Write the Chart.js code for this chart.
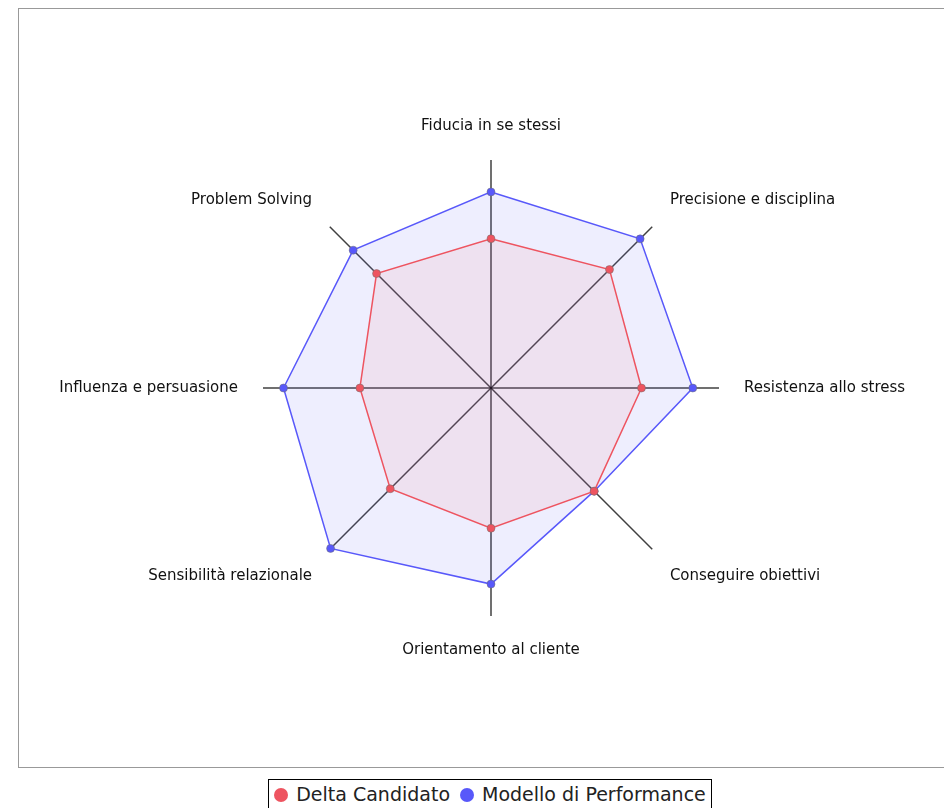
<!DOCTYPE html>
<html lang="it">
<head>
    <meta charset="UTF-8">
    <title>Radar competenze</title>
    <script src="https://cdn.jsdelivr.net/npm/chart.js"></script>
    <style>
        html, body { margin: 0; padding: 0; overflow: hidden; background: #fff; }
        #frame {
            position: absolute; left: 18px; top: 8px;
            width: 944px; height: 760px;
            border: 1px solid #999; box-sizing: border-box;
        }
        #legendWrap {
            position: absolute; left: 18px; top: 779px; width: 944px;
            text-align: center;
        }
        #legend {
            display: inline-block; border: 1px solid #000;
            padding: 3px 5px 6px 5px;
            font-family: 'DejaVu Sans', sans-serif; font-size: 19px; color: #222;
            white-space: nowrap;
        }
        #legend .dot {
            display: inline-block; width: 14px; height: 14px; border-radius: 50%;
            margin-right: 8px; vertical-align: -1px;
        }
        #legend .item { margin-right: 10px; }
        #legend .item:last-child { margin-right: 0; }
    </style>
</head>
<body>
    <div id="frame"><canvas id="radarChart" width="942" height="758"></canvas></div>
    <div id="legendWrap"><div id="legend"></div></div>

    <script>
        // axis labels, clockwise from the top
        const labels = [
            'Fiducia in se stessi',
            'Precisione e disciplina',
            'Resistenza allo stress',
            'Conseguire obiettivi',
            'Orientamento al cliente',
            'Sensibilità relazionale',
            'Influenza e persuasione',
            'Problem Solving'
        ];

        // values (scale 0-100)
        const deltaCandidato = [65.5, 73.5, 66, 64, 61.5, 62.5, 57.5, 71];
        const modelloPerformance = [86, 92.5, 88.5, 64, 86, 99.5, 91, 85.5];

        const red = 'rgb(238, 84, 96)';
        const blue = 'rgb(88, 88, 250)';

        const ctx = document.getElementById('radarChart').getContext('2d');
        const chart = new Chart(ctx, {
            type: 'radar',
            data: {
                labels: labels,
                datasets: [
                    {
                        label: 'Delta Candidato',
                        data: deltaCandidato,
                        borderColor: red,
                        backgroundColor: 'rgba(238, 84, 96, 0.09)',
                        pointBackgroundColor: red,
                        pointBorderColor: 'rgba(110, 110, 110, 0.5)',
                        pointBorderWidth: 1,
                        pointRadius: 4,
                        borderWidth: 1.5,
                        fill: true
                    },
                    {
                        label: 'Modello di Performance',
                        data: modelloPerformance,
                        borderColor: blue,
                        backgroundColor: 'rgba(88, 88, 250, 0.1)',
                        pointBackgroundColor: blue,
                        pointBorderColor: 'rgba(110, 110, 110, 0.5)',
                        pointBorderWidth: 1,
                        pointRadius: 4,
                        borderWidth: 1.5,
                        fill: true
                    }
                ]
            },
            options: {
                responsive: false,
                animation: false,
                layout: { padding: { top: 108, bottom: 108 } },
                plugins: {
                    legend: { display: false },
                    tooltip: { enabled: false }
                },
                scales: {
                    r: {
                        min: 0,
                        max: 100,
                        grid: { display: false },
                        ticks: { display: false },
                        angleLines: { color: 'rgba(0, 0, 0, 0.75)', lineWidth: 1.5 },
                        pointLabels: {
                            font: { family: 'DejaVu Sans', size: 15 },
                            color: '#111',
                            padding: 25
                        }
                    }
                }
            }
        });

        // html legend built from the datasets
        const legendEl = document.getElementById('legend');
        chart.data.datasets.forEach(ds => {
            const item = document.createElement('span');
            item.className = 'item';
            const dot = document.createElement('span');
            dot.className = 'dot';
            dot.style.background = ds.borderColor;
            item.appendChild(dot);
            item.appendChild(document.createTextNode(ds.label));
            legendEl.appendChild(item);
        });
    </script>
</body>
</html>
